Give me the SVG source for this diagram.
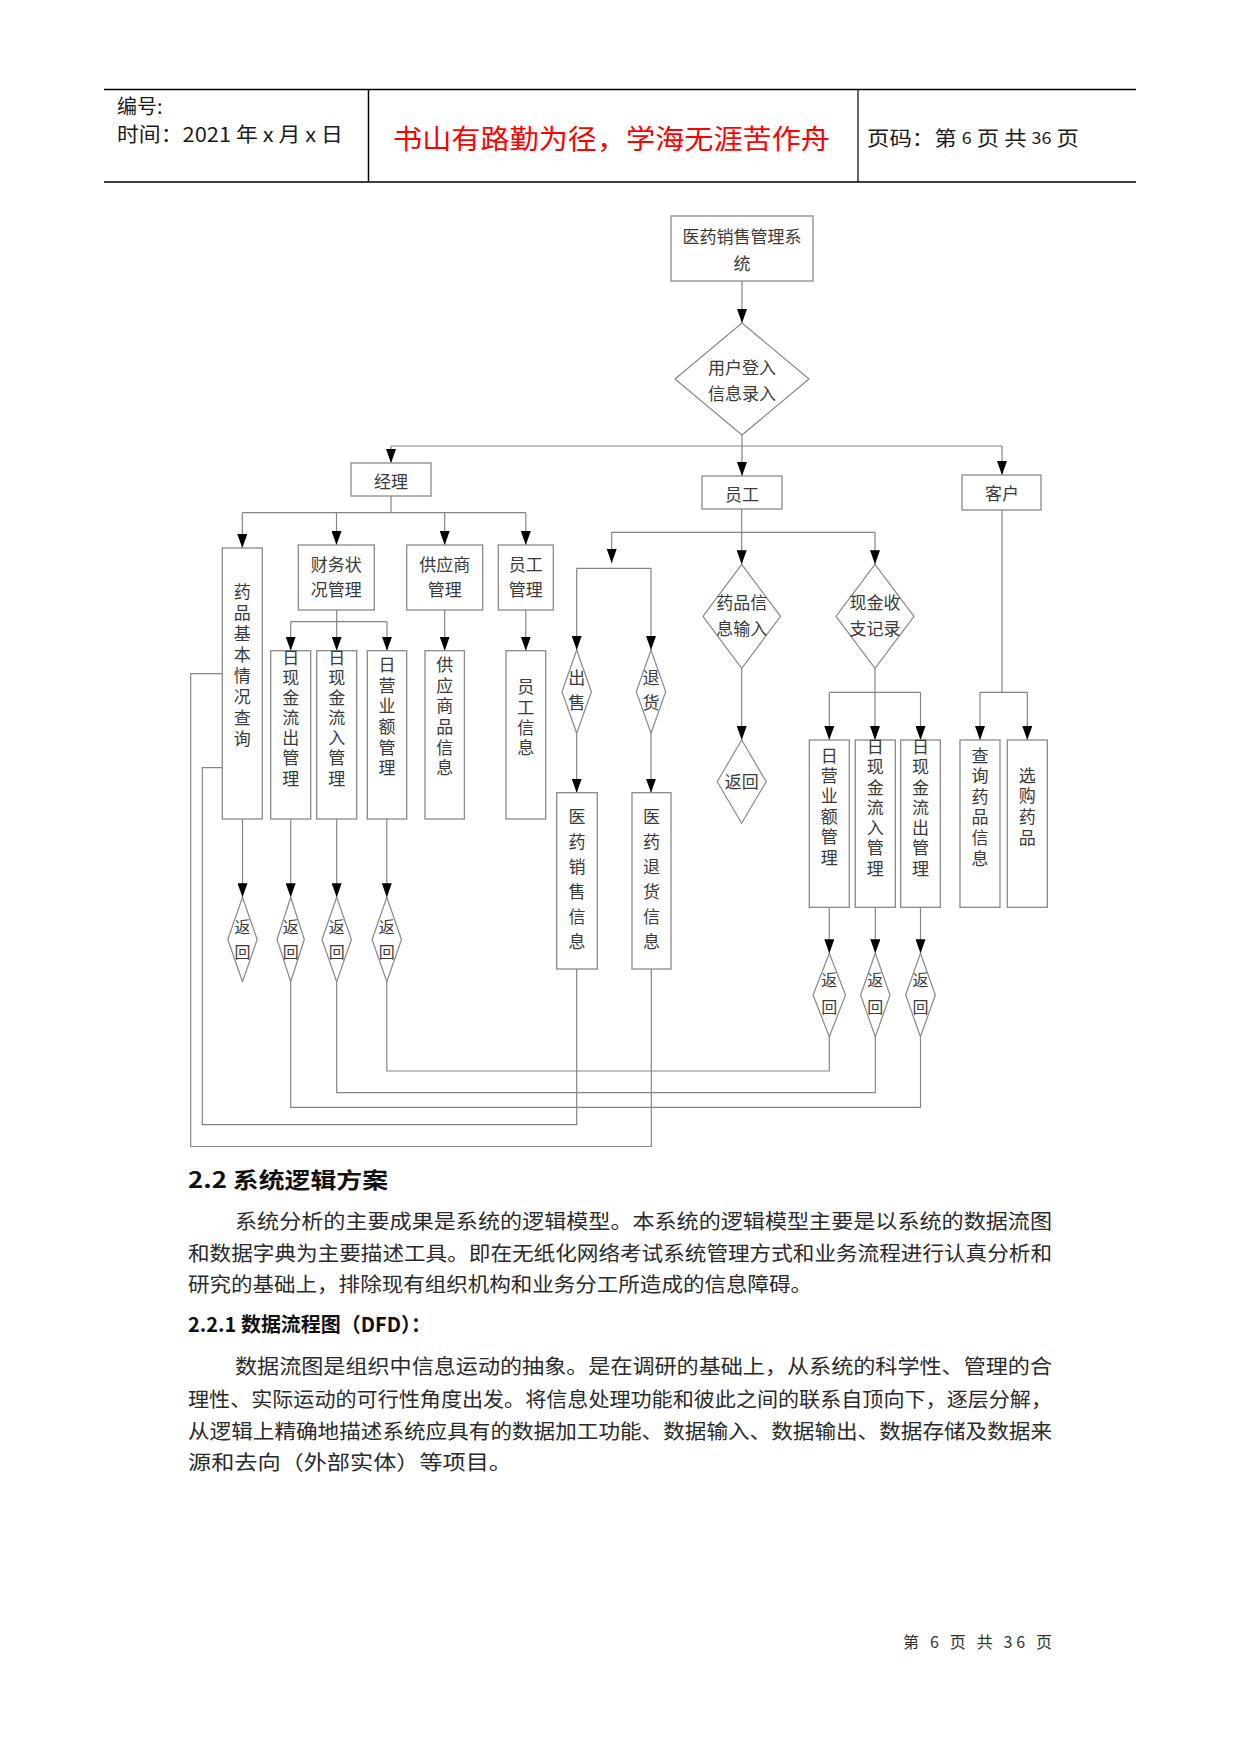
<svg xmlns="http://www.w3.org/2000/svg" width="1241" height="1754" viewBox="0 0 1241 1754">
<style>
  .t { font-family: "Noto Sans CJK SC", "Liberation Sans", sans-serif; }
  .d { font-family: "Noto Sans CJK SC", "Liberation Sans", sans-serif; font-size: 17px; fill: #3a3a3a; dominant-baseline: central; text-anchor: middle; }
  .v { font-family: "Noto Sans CJK SC", "Liberation Sans", sans-serif; font-size: 17px; fill: #3a3a3a; writing-mode: vertical-rl; text-anchor: start; dominant-baseline: central; }
  .vr { font-family: "Noto Sans CJK SC", "Liberation Sans", sans-serif; font-size: 16px; fill: #3a3a3a; writing-mode: vertical-rl; text-anchor: start; dominant-baseline: central; }
  .box { fill: #ffffff; stroke: #8a8a8a; stroke-width: 1.3; }
  .dia { fill: #ffffff; stroke: #8a8a8a; stroke-width: 1.2; stroke-linejoin: round; }
  .ln { fill: none; stroke: #858585; stroke-width: 1.2; }
  .arr { fill: none; stroke: #858585; stroke-width: 1.2; marker-end: url(#ah); }
  .body { font-family: "Noto Sans CJK SC", "Liberation Serif", sans-serif; font-size: 20px; fill: #2a2a2a; dominant-baseline: central; }
  .hd { font-family: "Noto Sans CJK SC", "Liberation Sans", sans-serif; font-weight: bold; fill: #111111; dominant-baseline: central; }
  .hdr { font-family: "Noto Sans CJK SC", "Liberation Sans", sans-serif; font-size: 20px; fill: #1a1a1a; dominant-baseline: central; }
</style>
<defs>
  <marker id="ah" markerUnits="userSpaceOnUse" viewBox="0 0 14 10" markerWidth="14" markerHeight="10" refX="14" refY="5" orient="auto">
    <path d="M0,0 L14,5 L0,10 Z" fill="#000000"/>
  </marker>
</defs>
<rect width="1241" height="1754" fill="#ffffff"/>

<!-- Header -->
<g id="header">
  <line x1="104" y1="89.5" x2="1136" y2="89.5" stroke="#000" stroke-width="1.5"/>
  <line x1="104" y1="182" x2="1136" y2="182" stroke="#000" stroke-width="1.5"/>
  <line x1="368.5" y1="89.5" x2="368.5" y2="182" stroke="#000" stroke-width="1.5"/>
  <line x1="858" y1="89.5" x2="858" y2="182" stroke="#000" stroke-width="1.2"/>
  <text class="hdr" x="117" y="105">编号:</text>
  <text class="hdr" x="117" y="133" textLength="226" lengthAdjust="spacingAndGlyphs">时间：2021 年 x 月 x 日</text>
  <text class="t" x="393" y="137" font-size="27" fill="#ff0000" dominant-baseline="central" textLength="437" lengthAdjust="spacingAndGlyphs">书山有路勤为径，学海无涯苦作舟</text>
  <text class="hdr" x="867" y="137" textLength="212" lengthAdjust="spacingAndGlyphs">页码：第 <tspan font-size="16">6</tspan> 页  共 <tspan font-size="16">36</tspan> 页</text>
</g>

<!-- Connectors -->
<g id="connectors">
  <line class="arr" x1="742" y1="281" x2="742" y2="323"/>
  <line class="arr" x1="742" y1="435" x2="742" y2="476"/>
  <polyline class="ln" points="391,446 1002,446"/>
  <line class="arr" x1="391" y1="446" x2="391" y2="463"/>
  <line class="arr" x1="1002" y1="446" x2="1002" y2="475"/>

  <line class="ln" x1="391" y1="496" x2="391" y2="512.7"/>
  <line class="ln" x1="242.3" y1="512.7" x2="525.8" y2="512.7"/>
  <line class="arr" x1="242.3" y1="512.7" x2="242.3" y2="548"/>
  <line class="arr" x1="336.5" y1="512.7" x2="336.5" y2="545"/>
  <line class="arr" x1="444.7" y1="512.7" x2="444.7" y2="545"/>
  <line class="arr" x1="525.8" y1="512.7" x2="525.8" y2="545"/>

  <line class="arr" x1="336.7" y1="610" x2="336.7" y2="650.7"/>
  <line class="ln" x1="290.7" y1="621.7" x2="387" y2="621.7"/>
  <line class="arr" x1="290.7" y1="621.7" x2="290.7" y2="650.7"/>
  <line class="arr" x1="387" y1="621.7" x2="387" y2="650.7"/>
  <line class="arr" x1="444.7" y1="610" x2="444.7" y2="650.7"/>
  <line class="arr" x1="525.8" y1="610" x2="525.8" y2="650.7"/>

  <line class="arr" x1="242.5" y1="819" x2="242.5" y2="897.3"/>
  <line class="arr" x1="290.7" y1="819" x2="290.7" y2="897.3"/>
  <line class="arr" x1="336.7" y1="819" x2="336.7" y2="897.3"/>
  <line class="arr" x1="386.8" y1="819" x2="386.8" y2="897.3"/>

  <line class="ln" x1="741.7" y1="509" x2="741.7" y2="532.3"/>
  <line class="ln" x1="611.7" y1="532.3" x2="875" y2="532.3"/>
  <line class="arr" x1="611.7" y1="532.3" x2="611.7" y2="563"/>
  <line class="arr" x1="741.7" y1="532.3" x2="741.7" y2="564.3"/>
  <line class="arr" x1="875" y1="532.3" x2="875" y2="564.3"/>
  <line class="ln" x1="576.7" y1="568.3" x2="651" y2="568.3"/>
  <line class="arr" x1="576.7" y1="568.3" x2="576.7" y2="650"/>
  <line class="arr" x1="651" y1="568.3" x2="651" y2="650"/>
  <line class="arr" x1="576.7" y1="733.3" x2="576.7" y2="792.7"/>
  <line class="arr" x1="651" y1="733.3" x2="651" y2="792.7"/>
  <line class="arr" x1="741.7" y1="668.3" x2="741.7" y2="740"/>
  <line class="arr" x1="875" y1="668.3" x2="875" y2="740"/>
  <line class="ln" x1="829.3" y1="692.3" x2="920.5" y2="692.3"/>
  <line class="arr" x1="829.3" y1="692.3" x2="829.3" y2="740"/>
  <line class="arr" x1="920.5" y1="692.3" x2="920.5" y2="740"/>

  <line class="ln" x1="1002" y1="510" x2="1002" y2="692.3"/>
  <line class="ln" x1="980" y1="692.3" x2="1027.3" y2="692.3"/>
  <line class="arr" x1="980" y1="692.3" x2="980" y2="740"/>
  <line class="arr" x1="1027.3" y1="692.3" x2="1027.3" y2="740"/>

  <line class="arr" x1="829.3" y1="907.3" x2="829.3" y2="953.3"/>
  <line class="arr" x1="875.3" y1="907.3" x2="875.3" y2="953.3"/>
  <line class="arr" x1="920.5" y1="907.3" x2="920.5" y2="953.3"/>

  <polyline class="ln" points="829.3,1036.7 829.3,1071 386.8,1071 386.8,981.7"/>
  <polyline class="ln" points="875.3,1036.7 875.3,1092.7 336.7,1092.7 336.7,981.7"/>
  <polyline class="ln" points="920.5,1036.7 920.5,1107.3 290.7,1107.3 290.7,981.7"/>
  <polyline class="ln" points="576.7,969 576.7,1124.7 202.3,1124.7 202.3,767.7 222.3,767.7"/>
  <polyline class="ln" points="651.3,969 651.3,1146.5 190.7,1146.5 190.7,673.7 222.3,673.7"/>
</g>

<!-- Nodes -->
<g id="n-system">
  <rect class="box" x="671" y="216" width="142" height="65"/>
  <text class="d" x="742" y="235">医药销售管理系</text>
  <text class="d" x="742" y="262">统</text>
</g>
<g id="n-login">
  <polygon class="dia" points="742,323 809,379 742,435 675,379"/>
  <text class="d" x="742" y="366">用户登入</text>
  <text class="d" x="742" y="392">信息录入</text>
</g>
<g id="n-manager">
  <rect class="box" x="351" y="463" width="80" height="33"/>
  <text class="d" x="391" y="480">经理</text>
</g>
<g id="n-staff">
  <rect class="box" x="702" y="476" width="80" height="33"/>
  <text class="d" x="742" y="493">员工</text>
</g>
<g id="n-customer">
  <rect class="box" x="962" y="475" width="79" height="35"/>
  <text class="d" x="1002" y="492">客户</text>
</g>

<g id="n-drugquery">
  <rect class="box" x="222.3" y="548" width="40" height="271"/>
  <text class="v" x="242.3" y="583" letter-spacing="4">药品基本情况查询</text>
</g>
<g id="n-finance">
  <rect class="box" x="298.3" y="545" width="76" height="65"/>
  <text class="d" x="336.3" y="563">财务状</text>
  <text class="d" x="336.3" y="588">况管理</text>
</g>
<g id="n-supplier">
  <rect class="box" x="406.7" y="545" width="76" height="65"/>
  <text class="d" x="444.7" y="563">供应商</text>
  <text class="d" x="444.7" y="588">管理</text>
</g>
<g id="n-staffmgr">
  <rect class="box" x="498.3" y="545" width="55" height="65"/>
  <text class="d" x="525.8" y="563">员工</text>
  <text class="d" x="525.8" y="588">管理</text>
</g>

<g id="n-cashout-l">
  <rect class="box" x="270.7" y="650.7" width="40" height="168.3"/>
  <text class="v" x="290.7" y="649" letter-spacing="3.1">日现金流出管理</text>
</g>
<g id="n-cashin-l">
  <rect class="box" x="316.7" y="650.7" width="40" height="168.3"/>
  <text class="v" x="336.7" y="649" letter-spacing="3.1">日现金流入管理</text>
</g>
<g id="n-revenue-l">
  <rect class="box" x="367.3" y="650.7" width="39.4" height="168.3"/>
  <text class="v" x="387" y="656" letter-spacing="3.7">日营业额管理</text>
</g>
<g id="n-supplierinfo">
  <rect class="box" x="425" y="650.7" width="39.4" height="168.3"/>
  <text class="v" x="444.7" y="656" letter-spacing="3.7">供应商品信息</text>
</g>
<g id="n-staffinfo">
  <rect class="box" x="506" y="650.7" width="39.7" height="168.3"/>
  <text class="v" x="525.8" y="678.3" letter-spacing="3.4">员工信息</text>
</g>

<g id="n-ret-l1">
  <polygon class="dia" points="242.5,897.3 257.2,939.5 242.5,981.7 227.8,939.5"/>
  <text class="vr" x="242.5" y="918.7" letter-spacing="9">返回</text>
</g>
<g id="n-ret-l2">
  <polygon class="dia" points="290.7,897.3 304.3,939.5 290.7,981.7 277.1,939.5"/>
  <text class="vr" x="290.7" y="918.7" letter-spacing="9">返回</text>
</g>
<g id="n-ret-l3">
  <polygon class="dia" points="336.7,897.3 351.4,939.5 336.7,981.7 322,939.5"/>
  <text class="vr" x="336.7" y="918.7" letter-spacing="9">返回</text>
</g>
<g id="n-ret-l4">
  <polygon class="dia" points="386.8,897.3 401.5,939.5 386.8,981.7 372.1,939.5"/>
  <text class="vr" x="386.8" y="918.7" letter-spacing="9">返回</text>
</g>

<g id="n-sell">
  <polygon class="dia" points="576.7,650 591.4,691.7 576.7,733.3 562,691.7"/>
  <text class="v" x="576.7" y="669.5" letter-spacing="8">出售</text>
</g>
<g id="n-refund">
  <polygon class="dia" points="651,650 665.7,691.7 651,733.3 636.3,691.7"/>
  <text class="v" x="651" y="669.5" letter-spacing="8">退货</text>
</g>
<g id="n-salesinfo">
  <rect class="box" x="556.7" y="792.7" width="40.6" height="176.3"/>
  <text class="v" x="577" y="808.2" letter-spacing="8">医药销售信息</text>
</g>
<g id="n-refundinfo">
  <rect class="box" x="632" y="792.7" width="39" height="176.3"/>
  <text class="v" x="651.5" y="808.2" letter-spacing="8">医药退货信息</text>
</g>

<g id="n-druginput">
  <polygon class="dia" points="741.7,564.3 780.5,616.3 741.7,668.3 703,616.3"/>
  <text class="d" x="741.7" y="601.7">药品信</text>
  <text class="d" x="741.7" y="627.3">息输入</text>
</g>
<g id="n-ret-mid">
  <polygon class="dia" points="741.7,740 766.2,781.7 741.7,823.3 717.2,781.7"/>
  <text class="d" x="741.7" y="780">返回</text>
</g>
<g id="n-cashrec">
  <polygon class="dia" points="875,564.3 914,616.3 875,668.3 836,616.3"/>
  <text class="d" x="875" y="601.7">现金收</text>
  <text class="d" x="875" y="627.3">支记录</text>
</g>

<g id="n-revenue-r">
  <rect class="box" x="809.3" y="740" width="40" height="167.3"/>
  <text class="v" x="829.3" y="746.7" letter-spacing="3.4">日营业额管理</text>
</g>
<g id="n-cashin-r">
  <rect class="box" x="855.3" y="740" width="40" height="167.3"/>
  <text class="v" x="875.3" y="738" letter-spacing="3.3">日现金流入管理</text>
</g>
<g id="n-cashout-r">
  <rect class="box" x="900.7" y="740" width="39.6" height="167.3"/>
  <text class="v" x="920.5" y="738" letter-spacing="3.3">日现金流出管理</text>
</g>
<g id="n-querydrug">
  <rect class="box" x="960" y="740" width="40" height="167.3"/>
  <text class="v" x="980" y="746.7" letter-spacing="3.6">查询药品信息</text>
</g>
<g id="n-buydrug">
  <rect class="box" x="1007.3" y="740" width="40" height="167.3"/>
  <text class="v" x="1027.3" y="766.7" letter-spacing="3.7">选购药品</text>
</g>

<g id="n-ret-r1">
  <polygon class="dia" points="829.3,953.3 845.5,995 829.3,1036.7 813.1,995"/>
  <text class="vr" x="829.3" y="972" letter-spacing="10.7">返回</text>
</g>
<g id="n-ret-r2">
  <polygon class="dia" points="875.3,953.3 890,995 875.3,1036.7 860.6,995"/>
  <text class="vr" x="875.3" y="972" letter-spacing="10.7">返回</text>
</g>
<g id="n-ret-r3">
  <polygon class="dia" points="920.5,953.3 935.3,995 920.5,1036.7 905.7,995"/>
  <text class="vr" x="920.5" y="972" letter-spacing="10.7">返回</text>
</g>

<!-- Body text -->
<g id="body">
  <text class="hd" x="188" y="1178" font-size="22" textLength="200" lengthAdjust="spacingAndGlyphs">2.2 系统逻辑方案</text>
  <text class="body" x="235" y="1220" textLength="817" lengthAdjust="spacingAndGlyphs">系统分析的主要成果是系统的逻辑模型。本系统的逻辑模型主要是以系统的数据流图</text>
  <text class="body" x="188" y="1252" textLength="864" lengthAdjust="spacingAndGlyphs">和数据字典为主要描述工具。即在无纸化网络考试系统管理方式和业务流程进行认真分析和</text>
  <text class="body" x="188" y="1283.5" textLength="624" lengthAdjust="spacingAndGlyphs">研究的基础上，排除现有组织机构和业务分工所造成的信息障碍。</text>
  <text class="hd" x="188" y="1323" font-size="20" textLength="243" lengthAdjust="spacingAndGlyphs">2.2.1 数据流程图（DFD）：</text>
  <text class="body" x="235" y="1365" textLength="817" lengthAdjust="spacingAndGlyphs">数据流图是组织中信息运动的抽象。是在调研的基础上，从系统的科学性、管理的合</text>
  <text class="body" x="188" y="1398" textLength="864" lengthAdjust="spacingAndGlyphs">理性、实际运动的可行性角度出发。将信息处理功能和彼此之间的联系自顶向下，逐层分解，</text>
  <text class="body" x="188" y="1430" textLength="864" lengthAdjust="spacingAndGlyphs">从逻辑上精确地描述系统应具有的数据加工功能、数据输入、数据输出、数据存储及数据来</text>
  <text class="body" x="188" y="1461.5" textLength="324" lengthAdjust="spacingAndGlyphs">源和去向（外部实体）等项目。</text>
</g>

<g id="footer">
  <text class="t" x="903" y="1641" font-size="16" fill="#333333" dominant-baseline="central" textLength="149" lengthAdjust="spacing">第 6 页 共 36 页</text>
</g>
</svg>
